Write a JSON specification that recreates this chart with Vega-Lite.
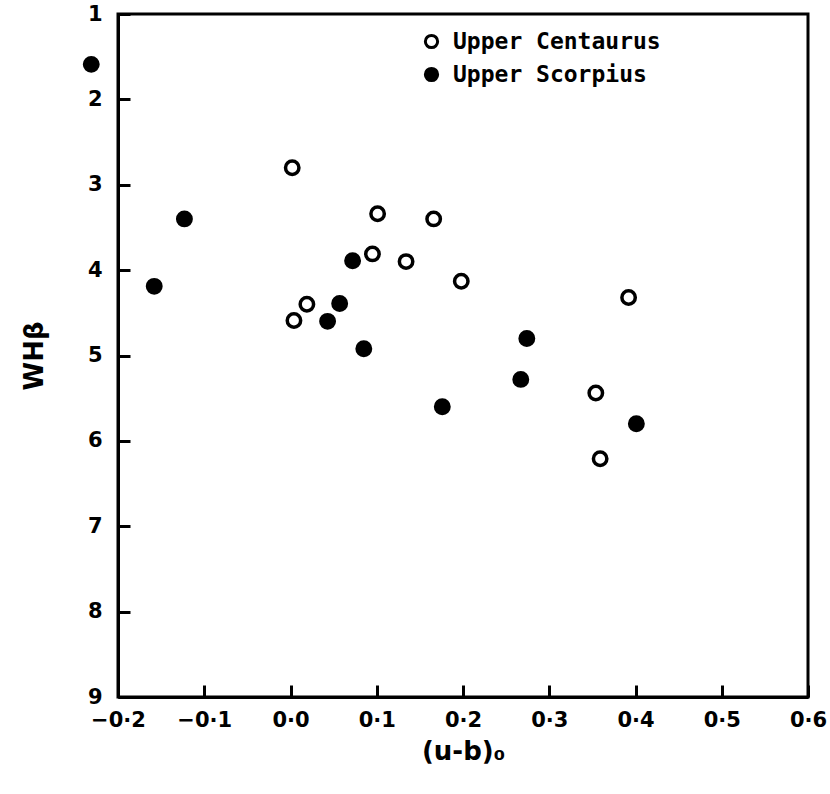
{
  "$schema": "https://vega.github.io/schema/vega-lite/v6.json",
  "width": 690,
  "height": 683,
  "autosize": "none",
  "padding": {"left": 118, "top": 14, "right": 22, "bottom": 97},
  "background": "white",
  "config": {
    "view": {"stroke": "black", "strokeWidth": 3},
    "font": "DejaVu Sans",
    "axis": {
      "domainColor": "black", "domainWidth": 3, "tickColor": "black", "tickWidth": 3,
      "tickSize": -12, "grid": false, "labelFont": "DejaVu Sans", "labelFontWeight": "bold",
      "labelFontSize": 21, "labelColor": "black", "titleFont": "DejaVu Sans",
      "titleFontWeight": "bold", "titleFontSize": 26, "titleColor": "black"
    },
    "legend": {"labelFont": "DejaVu Sans Mono", "labelFontWeight": "bold", "labelFontSize": 23, "labelColor": "black", "labelLimit": 0}
  },
  "data": {
    "values": [
      {"ub": 0.002, "w": 2.80, "group": "Upper Centaurus"},
      {"ub": 0.101, "w": 3.34, "group": "Upper Centaurus"},
      {"ub": 0.166, "w": 3.40, "group": "Upper Centaurus"},
      {"ub": 0.095, "w": 3.81, "group": "Upper Centaurus"},
      {"ub": 0.134, "w": 3.90, "group": "Upper Centaurus"},
      {"ub": 0.198, "w": 4.13, "group": "Upper Centaurus"},
      {"ub": 0.019, "w": 4.40, "group": "Upper Centaurus"},
      {"ub": 0.004, "w": 4.59, "group": "Upper Centaurus"},
      {"ub": 0.392, "w": 4.32, "group": "Upper Centaurus"},
      {"ub": 0.354, "w": 5.44, "group": "Upper Centaurus"},
      {"ub": 0.359, "w": 6.21, "group": "Upper Centaurus"},
      {"ub": -0.231, "w": 1.59, "group": "Upper Scorpius"},
      {"ub": -0.123, "w": 3.40, "group": "Upper Scorpius"},
      {"ub": -0.158, "w": 4.19, "group": "Upper Scorpius"},
      {"ub": 0.072, "w": 3.89, "group": "Upper Scorpius"},
      {"ub": 0.057, "w": 4.39, "group": "Upper Scorpius"},
      {"ub": 0.043, "w": 4.60, "group": "Upper Scorpius"},
      {"ub": 0.085, "w": 4.92, "group": "Upper Scorpius"},
      {"ub": 0.176, "w": 5.60, "group": "Upper Scorpius"},
      {"ub": 0.274, "w": 4.80, "group": "Upper Scorpius"},
      {"ub": 0.267, "w": 5.28, "group": "Upper Scorpius"},
      {"ub": 0.401, "w": 5.80, "group": "Upper Scorpius"}
    ]
  },
  "mark": {"type": "point", "shape": "circle", "filled": false, "stroke": "black", "strokeWidth": 3.5, "size": 180, "opacity": 1, "clip": false},
  "encoding": {
    "x": {
      "field": "ub", "type": "quantitative",
      "scale": {"domain": [-0.2, 0.6], "nice": false, "zero": false},
      "axis": {"values": [-0.2, -0.1, 0, 0.1, 0.2, 0.3, 0.4, 0.5, 0.6], "labelExpr": "replace(format(datum.value, '.1f'), '.', '·')", "labelPadding": 24, "title": "(u-b)₀", "titlePadding": 8, "labelFlush": false}
    },
    "y": {
      "field": "w", "type": "quantitative",
      "scale": {"domain": [1, 9], "reverse": true, "nice": false, "zero": false},
      "axis": {"values": [1, 2, 3, 4, 5, 6, 7, 8, 9], "labelPadding": 28, "title": "WHβ", "titlePadding": 40}
    },
    "fill": {
      "field": "group", "type": "nominal",
      "scale": {"domain": ["Upper Centaurus", "Upper Scorpius"], "range": ["white", "black"]},
      "legend": {"title": null, "orient": "none", "legendX": 302, "legendY": 16, "symbolType": "circle", "symbolSize": 150, "symbolStrokeColor": "black", "symbolStrokeWidth": 3, "rowPadding": 8, "labelOffset": 10}
    }
  }
}
